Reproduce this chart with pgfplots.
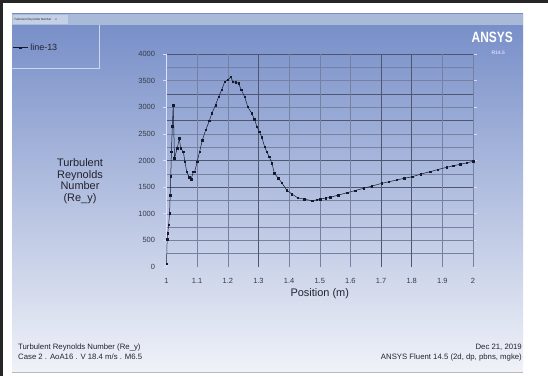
\documentclass[border=0pt]{standalone}
\usepackage{pgfplots}
\pgfplotsset{compat=1.18}
\usepackage{fontspec}
\setmainfont{Liberation Sans}
\definecolor{panelTop}{RGB}{116,140,199}
\definecolor{panelBot}{RGB}{240,242,248}
\definecolor{tabc}{RGB}{168,186,216}
\definecolor{tabl}{RGB}{196,208,230}
\definecolor{legc}{RGB}{205,215,236}
\definecolor{gridc}{RGB}{118,128,160}
\definecolor{gridd}{RGB}{78,86,112}
\definecolor{datac}{RGB}{20,25,45}
\definecolor{textc}{RGB}{35,35,45}
\definecolor{tickc}{RGB}{55,58,70}
\begin{document}
\begin{tikzpicture}[x=1bp,y=1bp]
\useasboundingbox (0,0) rectangle (548,376);
\fill[white] (0,0) rectangle (548,376);
% panel
\shade[top color=panelTop, bottom color=panelBot] (12,4) rectangle (523,362);
\fill[tabc] (12,351) rectangle (523,362);
\fill[tabl] (13,352) rectangle (68,361);
\node[anchor=west, inner sep=0pt, font=\fontsize{3}{3.5}\selectfont, text=textc] at (14,356.5) {Turbulent Reynolds Number \quad x};
\draw[legc, line width=1bp] (12,308) -- (99,308) -- (99,351);
\draw[gray!55, line width=1bp] (12,4) -- (523,4);
% frame
\fill[black!85] (0,373) rectangle (548,376);
\fill[black!85] (0,0) rectangle (3,376);
% logo
\node[anchor=east, inner sep=0pt, text=white, font=\bfseries\fontsize{15}{15}\selectfont, xscale=0.8] at (513,338.5) {ANSYS};
\node[anchor=east, inner sep=0pt, text=white!85!blue, font=\bfseries\fontsize{5}{5}\selectfont] at (505,323) {R14.5};
% y title
\node[align=center, inner sep=0pt, text=textc, font=\fontsize{11}{11.7}\selectfont] at (80,195) {Turbulent\\Reynolds\\Number\\(Re\_y)};
% footer
\node[anchor=base west, inner sep=0pt, text=textc, font=\fontsize{7.8}{9}\selectfont] at (18,26.5) {Turbulent Reynolds Number (Re\_y)};
\node[anchor=base west, inner sep=0pt, text=textc, font=\fontsize{7.8}{9}\selectfont] at (18,16.5) {Case 2 . AoA16 . V 18.4 m/s . M6.5};
\node[anchor=base east, inner sep=0pt, text=textc, font=\fontsize{7.8}{9}\selectfont] at (522,26.5) {Dec 21, 2019};
\node[anchor=base east, inner sep=0pt, text=textc, font=\fontsize{7.8}{9}\selectfont] at (522,16.5) {ANSYS Fluent 14.5 (2d, dp, pbns, mgke)};
\begin{axis}[
  at={(166.5bp,109bp)}, anchor=south west,
  scale only axis, width=306.5bp, height=213bp,
  xmin=1, xmax=2, ymin=0, ymax=4000,
  axis line style={draw=none},
  xtick={1,1.1,1.2,1.3,1.4,1.5,1.6,1.7,1.8,1.9,2},
  xticklabels={1,1.1,1.2,1.3,1.4,1.5,1.6,1.7,1.8,1.9,2},
  ytick={0,500,1000,1500,2000,2500,3000,3500,4000},
  yticklabels={0,500,1000,1500,2000,2500,3000,3500,4000},
  xtick style={draw=none},
  ytick style={draw=white!85!blue, line width=0.6bp},
  tick align=outside, major tick length=4bp,
  ticklabel style={font=\fontsize{7.5}{9}\selectfont, text=tickc},
  xticklabel style={yshift=-4bp},
  yticklabel style={xshift=-4bp},
  xlabel={Position (m)},
  xlabel style={font=\fontsize{11}{12}\selectfont, text=textc, yshift=2bp},
  legend style={at={(axis description cs:-0.503,1.03)}, anchor=west, draw=none, fill=none, font=\fontsize{9}{10}\selectfont, text=textc, inner sep=0pt},
  legend image code/.code={\draw[mark repeat=2,mark phase=2] plot coordinates {(0cm,0cm) (0.27cm,0cm) (0.54cm,0cm)};},
  clip=false,
]
\pgfplotsinvokeforeach{250,500,750,1000,1250,1750,2250,2500,3000,3500,3750}{
  \draw[gridc, line width=0.4bp] (axis cs:1,#1) -- (axis cs:2,#1);}
\pgfplotsinvokeforeach{1500,2000,2750,3250,4000}{
  \draw[gridd, line width=0.5bp] (axis cs:1,#1) -- (axis cs:2,#1);}
\pgfplotsinvokeforeach{1.1,1.2,1.4,1.5,1.6,1.9,2}{
  \draw[gridc, line width=0.4bp] (axis cs:#1,0) -- (axis cs:#1,4000);}
\pgfplotsinvokeforeach{1.3,1.7,1.8}{
  \draw[gridd, line width=0.5bp] (axis cs:#1,0) -- (axis cs:#1,4000);}
\draw[white!88!blue, line width=0.8bp] (axis cs:1,0) -- (axis cs:1,4000);
\addplot[datac, line width=0.5bp, mark=square*, mark size=0.75bp, mark options={datac}] coordinates {
(1.000,60) (1.002,520) (1.004,630) (1.007,790) (1.010,1010) (1.012,1350)
(1.014,1700) (1.016,2165) (1.019,2640) (1.022,3042) (1.026,2041) (1.035,2229)
(1.042,2417) (1.046,2229) (1.055,2165) (1.060,1978) (1.066,1790) (1.074,1684)
(1.080,1647) (1.088,1790) (1.092,1790) (1.100,1978) (1.108,2165) (1.117,2385)
(1.128,2573) (1.140,2748) (1.148,2886) (1.160,3042) (1.170,3198) (1.180,3324)
(1.190,3480) (1.200,3512) (1.210,3574) (1.216,3480) (1.226,3469) (1.235,3450)
(1.244,3324) (1.255,3198) (1.265,3010) (1.278,2886) (1.287,2774) (1.295,2635)
(1.303,2541) (1.311,2436) (1.320,2259) (1.327,2165) (1.335,2071) (1.344,1948)
(1.352,1760) (1.365,1666) (1.376,1583) (1.392,1446) (1.409,1370) (1.428,1300)
(1.450,1272) (1.475,1245) (1.490,1260) (1.502,1277) (1.520,1295) (1.534,1308)
(1.560,1350) (1.589,1395) (1.615,1435) (1.643,1478) (1.670,1520) (1.703,1572)
(1.725,1600) (1.751,1634) (1.775,1665) (1.802,1696) (1.830,1745) (1.860,1790)
(1.885,1830) (1.914,1872) (1.935,1900) (1.958,1929) (1.980,1955) (2.000,1985)
};
\addlegendentry{line-13}
\end{axis}
\end{tikzpicture}
\end{document}
